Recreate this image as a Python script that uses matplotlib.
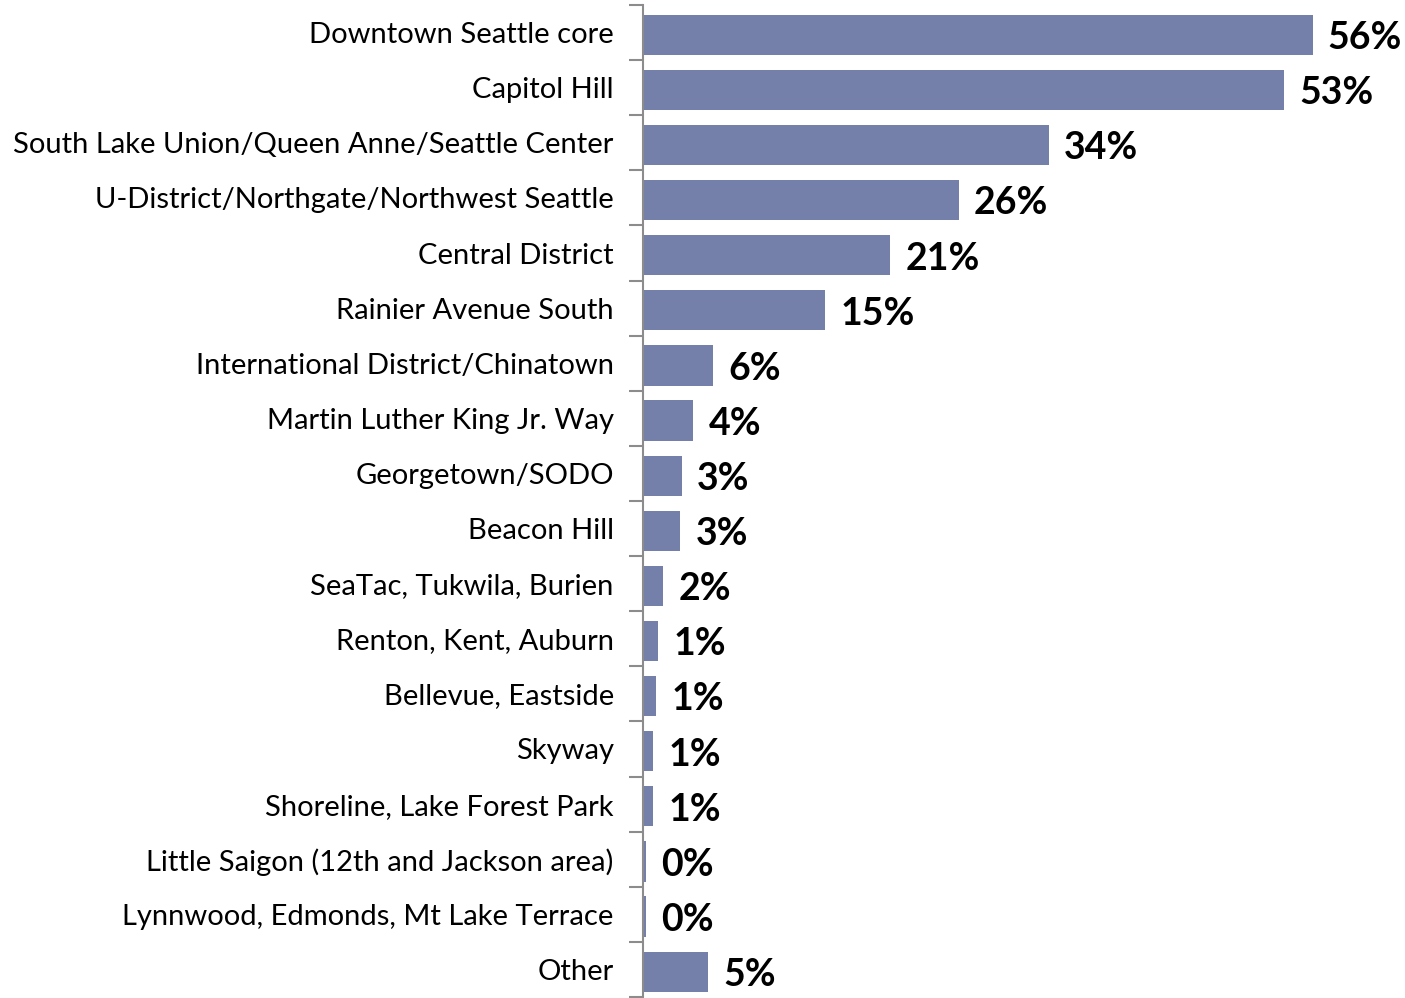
import numpy as np
import matplotlib.pyplot as plt

categories = ["Downtown Seattle core", "Capitol Hill",
              "South Lake Union/Queen Anne/Seattle Center",
              "U-District/Northgate/Northwest Seattle", "Central District",
              "Rainier Avenue South", "International District/Chinatown",
              "Martin Luther King Jr. Way", "Georgetown/SODO", "Beacon Hill",
              "SeaTac, Tukwila, Burien", "Renton, Kent, Auburn",
              "Bellevue, Eastside", "Skyway", "Shoreline, Lake Forest Park",
              "Little Saigon (12th and Jackson area)",
              "Lynnwood, Edmonds, Mt Lake Terrace", "Other"]
values = [55.8, 53.4, 33.8, 26.3, 20.6, 15.2, 5.8, 4.2, 3.25, 3.1,
          1.7, 1.25, 1.08, 0.83, 0.83, 0.25, 0.25, 5.4]

plt.rcParams['font.family'] = ['Lato', 'DejaVu Sans']

fig = plt.figure(figsize=(14.05, 9.98), dpi=100)
ax = fig.add_axes([643/1405, 1/998, 720/1405, 992/998])

y = np.arange(len(categories))
# bars sit a touch below the category centre, as in the original
bars = ax.barh(y + 0.04, values, height=0.73, color='#7480A9', edgecolor='none')
ax.set_xlim(0, 60)
ax.set_ylim(len(categories) - 0.5, -0.5)

for yi, v in zip(y, values):
    ax.annotate("{:.0f}%".format(v), (v, yi), xytext=(11, -4),
                textcoords='offset points', ha='left', va='center',
                fontsize=27, fontweight='bold', color='black')

ax.set_yticks(y)
ax.set_yticklabels(categories, fontsize=21)
ax.tick_params(axis='y', which='major', length=0, pad=21)
ax.set_yticks(np.arange(len(categories) + 1) - 0.5, minor=True)
ax.tick_params(axis='y', which='minor', length=10, width=1.5, color='#8c8c8c')
ax.set_xticks([])
for s in ['top', 'right', 'bottom']:
    ax.spines[s].set_visible(False)
ax.spines['left'].set_color('#8c8c8c')
ax.spines['left'].set_linewidth(1.5)

fig.savefig('out.png', dpi=100)
